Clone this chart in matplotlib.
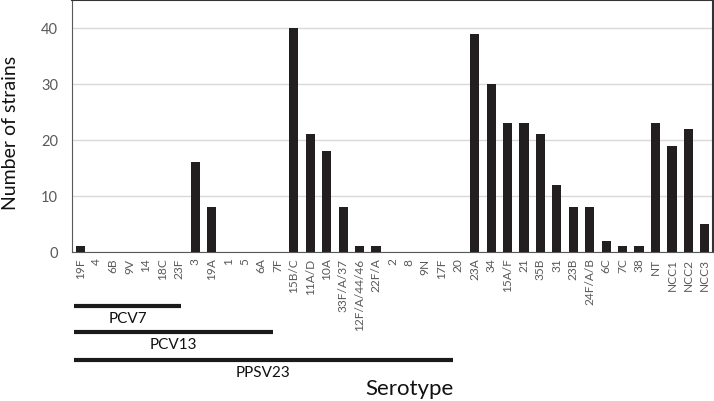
import numpy as np
import matplotlib
matplotlib.use("Agg")
import matplotlib.pyplot as plt
from matplotlib.transforms import blended_transform_factory

plt.rcParams['font.family'] = ['Lato', 'DejaVu Sans']

serotypes = ["19F", "4", "6B", "9V", "14", "18C", "23F", "3", "19A", "1", "5",
             "6A", "7F", "15B/C", "11A/D", "10A", "33F/A/37", "12F/A/44/46",
             "22F/A", "2", "8", "9N", "17F", "20", "23A", "34", "15A/F", "21",
             "35B", "31", "23B", "24F/A/B", "6C", "7C", "38", "NT", "NCC1",
             "NCC2", "NCC3"]
strains = [1, 0, 0, 0, 0, 0, 0, 16, 8, 0, 0,
           0, 0, 40, 21, 18, 8, 1,
           1, 0, 0, 0, 0, 0, 39, 30, 23, 23,
           21, 12, 8, 8, 2, 1, 1, 23, 19,
           22, 5]

# vaccine coverage brackets: label and last covered serotype
vaccines = ["PCV7", "PCV13", "PPSV23"]
vaccine_last = ["23F", "7F", "20"]

W, H = 714, 402
fig = plt.figure(figsize=(W / 100, H / 100), dpi=100)
ax = fig.add_axes([72 / W, 1 - 253 / H, 641 / W, 252 / H])

x = np.arange(len(serotypes))
ax.bar(x, strains, width=0.56, color="#231f20", zorder=3)

ax.set_xlim(-0.5, len(serotypes) - 0.5)
ax.set_ylim(0, 45)
ax.set_yticks([0, 10, 20, 30, 40])
ax.grid(axis="y", color="#d9d9d9", linewidth=1, zorder=0)
ax.set_xticks(x)
ax.set_xticklabels(serotypes, rotation=90, fontsize=8.6, color="#595959")
ax.tick_params(axis="x", length=0, pad=4)
ax.tick_params(axis="y", length=0, labelsize=10.5, labelcolor="#595959", pad=10)
for s in ["left", "bottom"]:
    ax.spines[s].set_color("#595959")
for s in ["top", "right"]:
    ax.spines[s].set_color("#333333")
    ax.spines[s].set_linewidth(1.5)

fig.text(11 / W, 1 - 133 / H, "Number of strains", rotation=90,
         ha="center", va="center", fontsize=14, color="#111111")

trans = blended_transform_factory(ax.transData, fig.transFigure)
line_y = [307, 333, 361]
end_off = [0.13, -0.28, -0.34]
for name, last, ly, off in zip(vaccines, vaccine_last, line_y, end_off):
    x0 = -0.38
    x1 = serotypes.index(last) + off
    ax.plot([x0, x1], [1 - ly / H] * 2, color="#1a1a1a", linewidth=3,
            transform=trans, clip_on=False, solid_capstyle="butt")
    ax.text((x0 + x1) / 2, 1 - (ly + 12) / H, name, transform=trans,
            ha="center", va="center", fontsize=11, color="#111111")

fig.text(409 / W, 1 - 389 / H, "Serotype", ha="center", va="center",
         fontsize=16, color="#111111")

fig.savefig("out.png", dpi=100)
